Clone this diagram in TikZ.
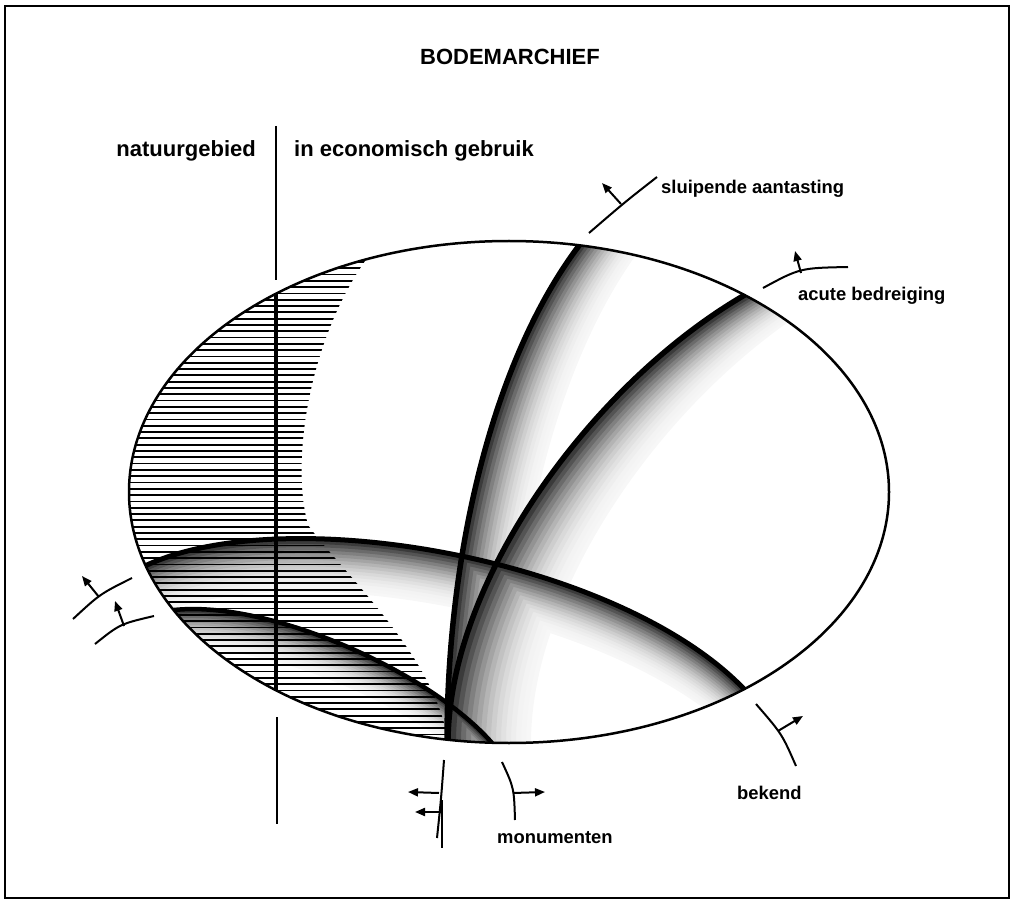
\documentclass[tikz,border=0pt]{standalone}
\usepackage{fontspec}
\setmainfont{Liberation Sans}
\usetikzlibrary{arrows.meta}

% curves inside the archive
\newcommand{\lijnA}{(585,237) -- (578,247) .. controls (490,365) and (447,560) .. (447,742) -- (447,765)}
\newcommand{\lijnB}{(760,286) -- (743,296) .. controls (590,386) and (450,580) .. (448,740) -- (448,765)}
\newcommand{\boogC}{(120,572) -- (147,565) .. controls (290,500) and (620,560) .. (744,689) -- (760,706)}
\newcommand{\boogD}{(150,611) -- (174,610) .. controls (270,600) and (430,672) .. (492,743) -- (505,758)}

\tikzset{
  kop/.style={font=\bfseries\fontsize{22}{26}\selectfont, inner sep=0pt},
  tekst/.style={font=\bfseries\fontsize{18.4}{22}\selectfont, inner sep=0pt},
  grens/.style={line width=2pt},
  pijl/.style={line width=2pt, -{Triangle[length=10pt,width=8pt]}},
}

\begin{document}
\begin{tikzpicture}[x=1pt, y=-1pt]
\useasboundingbox (0,0) rectangle (1013,901);
% Frame
\draw[line width=2pt] (5,6) rectangle (1009,898);

% Titles
\node[kop, anchor=base] (titel) at (510,65) {BODEMARCHIEF};
\node[kop, anchor=base east] (natuur) at (256,157) {natuurgebied};
\node[kop, anchor=base west] (economie) at (294,157) {in economisch gebruik};
\draw[grens] (276,126) -- (276,280);
\draw[grens] (277,717) -- (277,824);

% Ellipse with hatching and stippling
\begin{scope}
\clip (509,492) ellipse [x radius=380, y radius=251];
\foreach \k in {16,...,1} {
  \pgfmathsetmacro\tint{3+74*((17-\k)/16)^2.2}
  \draw[black!\tint, line width=4.8pt, xshift=\k*3.8pt] \lijnA;
  \draw[black!\tint, line width=6pt, xshift=\k*5pt] \lijnB;
  \draw[black!\tint, line width=4.2pt, yshift=-\k*3.2pt] \boogC;
  \draw[black!\tint, line width=3.4pt, yshift=-\k*2.4pt] \boogD;
}
\begin{scope}
\clip (90,200) -- (370,230) -- (365,261) .. controls (310,340) and (290,460) .. (308,525)
  .. controls (340,570) and (440,660) .. (448,745) -- (448,770) -- (90,770) -- cycle;
\foreach \i in {0,...,77}
  \draw[line width=1.8pt] (90,262+6.3*\i) -- (470,262+6.3*\i);
\end{scope}
\draw[line width=5.5pt] \lijnA;
\draw[line width=5.5pt] \lijnB;
\draw[line width=5pt] \boogC;
\draw[line width=4.5pt] \boogD;
\draw[line width=4pt] (276,280) -- (276,700);
\end{scope}
\draw[line width=2.5pt] (509,492) ellipse [x radius=380, y radius=251];

% Threats and their direction
\draw[grens] (589,233) .. controls (625,202) .. (657,177);
\draw[pijl] (621,204) -- (602,183);
\node[tekst, anchor=base west] (sluipend) at (661,194) {sluipende aantasting};

\draw[grens] (763,288) .. controls (800,268) .. (848,267);
\draw[pijl] (801,273) -- (795,251);
\node[tekst, anchor=base west] (acuut) at (798,301) {acute bedreiging};

\draw[grens] (73,619) .. controls (100,594) .. (132,578);
\draw[pijl] (99,597) -- (82,576);
\draw[grens] (95,644) .. controls (120,624) .. (154,616);
\draw[pijl] (124,626) -- (115,601);

\draw[grens] (444,760) .. controls (441,800) .. (437,838);
\draw[grens] (442,800) -- (442,848);
\draw[pijl] (439,793) -- (408,792);
\draw[pijl] (442,812) -- (415,812);

\draw[grens] (502,762) .. controls (514,788) .. (515,820);
\draw[pijl] (513,793) -- (545,792);
\node[tekst, anchor=base west] (monument) at (497,843) {monumenten};

\draw[grens] (756,704) .. controls (782,734) .. (796,766);
\draw[pijl] (778,731) -- (803,716);
\node[tekst, anchor=base west] (bekend) at (737,799) {bekend};
\end{tikzpicture}
\end{document}
